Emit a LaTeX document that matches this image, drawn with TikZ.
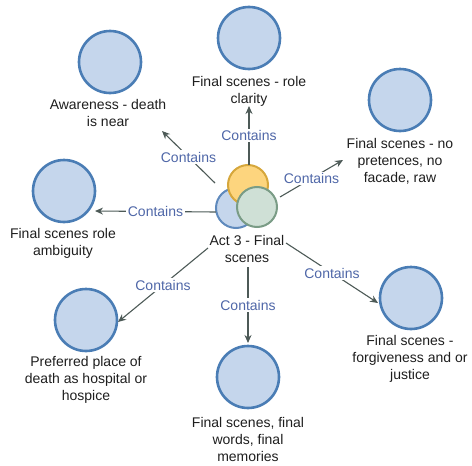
\documentclass[tikz,border=0pt]{standalone}
\usepackage{fontspec}
\setmainfont{Liberation Sans}
\usetikzlibrary{arrows.meta}
\definecolor{cfill}{HTML}{C5D6EC}
\definecolor{cstroke}{HTML}{4A7DB5}
\definecolor{yfill}{HTML}{FDD57E}
\definecolor{ystroke}{HTML}{D6A73C}
\definecolor{gfill}{HTML}{CFE0D6}
\definecolor{gstroke}{HTML}{7A9C86}
\definecolor{bstroke}{HTML}{5F8ABD}
\definecolor{edgec}{HTML}{4D5A57}
\definecolor{labc}{HTML}{4F67A8}
\definecolor{txtc}{HTML}{1E1E1E}
\tikzset{
  bigcirc/.style={circle, minimum size=62pt, inner sep=0pt, fill=cfill, draw=cstroke, line width=2.6pt},
  smallcirc/.style={circle, minimum size=40pt, inner sep=0pt, line width=2pt},
  txt/.style={align=center, text=txtc, font=\fontsize{14}{17}\selectfont, inner sep=1pt},
  conn/.style={draw=edgec, line width=1.1pt, -{Stealth[length=8pt,width=7pt]}},
  lab/.style={fill=white, text=labc, font=\fontsize{14}{17}\selectfont, inner sep=1.5pt, pos=0.5}
}
\begin{document}
\begin{tikzpicture}[x=1pt, y=-1pt]
\useasboundingbox (0,0) rectangle (472,466);
% centre group
\node[smallcirc, fill=cfill, draw=bstroke] (cb) at (236,208) {};
\node[smallcirc, fill=yfill, draw=ystroke] (cy) at (248,185) {};
\node[smallcirc, fill=gfill, draw=gstroke] (cg) at (257,207) {};
\node[txt] (ctext) at (247,249) {Act 3 - Final\\scenes};
% outer circles
\node[bigcirc] (aw) at (110,62) {};
\node[txt] (awt) at (108,113) {Awareness - death\\is near};
\node[bigcirc] (rc) at (249,38) {};
\node[txt] (rct) at (249,91) {Final scenes - role\\clarity};
\node[bigcirc] (np) at (400,100) {};
\node[txt] (npt) at (400,161) {Final scenes - no\\pretences, no\\facade, raw};
\node[bigcirc] (ra) at (64,191) {};
\node[txt] (rat) at (63,243) {Final scenes role\\ambiguity};
\node[bigcirc] (pp) at (86,320) {};
\node[txt] (ppt) at (86,380) {Preferred place of\\death as hospital or\\hospice};
\node[bigcirc] (fw) at (248,377) {};
\node[txt] (fwt) at (248,439) {Final scenes, final\\words, final\\memories};
\node[bigcirc] (fg) at (411,298) {};
\node[txt] (fgt) at (410,359) {Final scenes -\\forgiveness and or\\justice};
% connector ends
\coordinate (s1) at (215,183); \coordinate (t1) at (162,131);
\coordinate (s2) at (249,165); \coordinate (t2) at (249,106);
\coordinate (s3) at (280,197); \coordinate (t3) at (343,160);
\coordinate (s4) at (216,212); \coordinate (t4) at (95,211);
\coordinate (s5) at (208,248); \coordinate (t5) at (118,322);
\coordinate (s6) at (248,267); \coordinate (t6) at (248,343);
\coordinate (s7) at (286,243); \coordinate (t7) at (378,303);
\draw[conn] (s1) -- node[lab] (l1) {Contains} (t1);
\draw[conn] (s2) -- node[lab] (l2) {Contains} (t2);
\draw[conn] (s3) -- node[lab] (l3) {Contains} (t3);
\draw[conn] (s4) -- node[lab] (l4) {Contains} (t4);
\draw[conn] (s5) -- node[lab] (l5) {Contains} (t5);
\draw[conn] (s6) -- node[lab] (l6) {Contains} (t6);
\draw[conn] (s7) -- node[lab] (l7) {Contains} (t7);
\end{tikzpicture}
\end{document}
